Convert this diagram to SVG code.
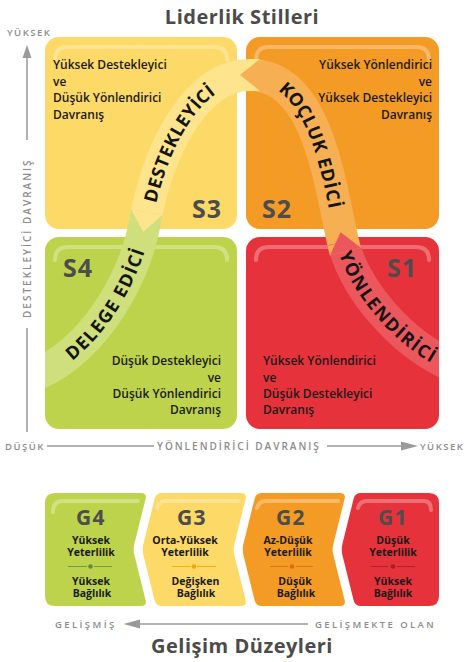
<svg xmlns="http://www.w3.org/2000/svg" width="464" height="662" viewBox="0 0 464 662">
<style>
text{font-family:"Open Sans","Liberation Sans",sans-serif}
.title{font-size:20px;font-weight:700;fill:#4b4b4b;text-anchor:middle;letter-spacing:0.5px}
.ax{font-size:10px;font-weight:600;fill:#8c8c8c;letter-spacing:2px}
.axs{font-size:9.5px;font-weight:600;fill:#8c8c8c;letter-spacing:1.5px}
.ax2{font-size:9.5px;font-weight:600;fill:#8c8c8c;letter-spacing:2.4px}
.axl{stroke:#9a9a9a;stroke-width:1.5;fill:none}
.axh{fill:#9a9a9a}
.desc{font-size:12px;font-weight:600;fill:#1a1a1a}
.end{text-anchor:end}
.slab{font-size:25px;font-weight:700;fill:#4d4d4d;letter-spacing:1px}
.hl{fill:none;stroke:#fff;stroke-opacity:0.3;stroke-width:4;stroke-linecap:round}
.band{fill:none;stroke-width:32}
.btxt{font-size:18px;font-weight:700;fill:#141414;letter-spacing:1px}
.glab{font-size:21px;font-weight:700;fill:#4d4d4d;text-anchor:middle;letter-spacing:1.5px}
.gs{font-size:10.5px;font-weight:700;fill:#1a1a1a;text-anchor:middle}
.yel{fill:#FDD967}.ora{fill:#F39B24}.grn{fill:#BDD34B}.red{fill:#E6323A}
</style>
<defs>
<clipPath id="bandclip"><rect x="45" y="30" width="394" height="400"/></clipPath>
<path id="pG" d="M 38 374 C 100 345, 136 272, 145 222"/>
<path id="pY" d="M 145 222 C 158 150, 195 75, 250 75"/>
<path id="pO" d="M 250 75 C 318 75, 330 185, 343 242"/>
<path id="pR" d="M 343 242 C 355 290, 400 342, 450 365"/>
</defs>
<rect width="464" height="662" fill="#fff"/>

<text class="title" x="242" y="24">Liderlik Stilleri</text>

<g id="axes">
<text class="axs" x="7" y="36">YÜKSEK</text>
<polygon class="axh" points="27,45 22.5,58 31.5,58"/>
<line class="axl" x1="27" y1="57" x2="27" y2="140"/>
<text class="ax" transform="translate(31,318) rotate(-90)">DESTEKLEYİCİ DAVRANIŞ</text>
<line class="axl" x1="27" y1="328" x2="27" y2="432"/>
<text class="axs" x="5" y="449.5">DÜŞÜK</text>
<line class="axl" x1="47" y1="446" x2="154" y2="446"/>
<text class="ax" x="157" y="449.5">YÖNLENDİRİCİ DAVRANIŞ</text>
<line class="axl" x1="327" y1="446" x2="403" y2="446"/>
<polygon class="axh" points="418,446 401,441.5 401,450.5"/>
<text class="axs" x="420" y="449.5">YÜKSEK</text>
</g>

<g id="S3">
<rect class="yel" x="45" y="37" width="192" height="192" rx="14"/>
<path class="hl" d="M 55 60 Q 55 47 68 47 L 214 47 Q 227 47 227 60"/>
<text class="desc" x="53" y="69">Yüksek Destekleyici</text>
<text class="desc" x="53" y="85.5">ve</text>
<text class="desc" x="53" y="102">Düşük Yönlendirici</text>
<text class="desc" x="53" y="118.5">Davranış</text>
<text class="slab" x="192" y="218">S3</text>
</g>
<g id="S2">
<rect class="ora" x="246" y="37" width="193" height="192" rx="14"/>
<path class="hl" d="M 256 60 Q 256 47 269 47 L 416 47 Q 429 47 429 60"/>
<text class="desc end" x="432" y="69">Yüksek Yönlendirici</text>
<text class="desc end" x="432" y="85.5">ve</text>
<text class="desc end" x="432" y="102">Yüksek Destekleyici</text>
<text class="desc end" x="432" y="118.5">Davranış</text>
<text class="slab" x="262" y="218">S2</text>
</g>
<g id="S4">
<rect class="grn" x="45" y="237" width="192" height="192" rx="14"/>
<path class="hl" d="M 55 260 Q 55 247 68 247 L 214 247 Q 227 247 227 260"/>
<text class="desc end" x="221" y="365">Düşük Destekleyici</text>
<text class="desc end" x="221" y="381.5">ve</text>
<text class="desc end" x="221" y="398">Düşük Yönlendirici</text>
<text class="desc end" x="221" y="414">Davranış</text>
<text class="slab" x="63" y="277">S4</text>
</g>
<g id="S1">
<rect class="red" x="246" y="237" width="193" height="192" rx="14"/>
<path class="hl" d="M 256 260 Q 256 247 269 247 L 416 247 Q 429 247 429 260"/>
<text class="desc" x="263" y="365">Yüksek Yönlendirici</text>
<text class="desc" x="263" y="381.5">ve</text>
<text class="desc" x="263" y="398">Düşük Destekleyici</text>
<text class="desc" x="263" y="414">Davranış</text>
<text class="slab" x="387" y="277">S1</text>
</g>

<g id="connectors" clip-path="url(#bandclip)">
<use href="#pR" class="band" stroke="#EC575E"/>
<use href="#pO" class="band" stroke="#F6AF52"/>
<use href="#pY" class="band" stroke="#FEE48C"/>
<use href="#pG" class="band" stroke="#CEDF7C"/>
<polygon fill="#F6AF52" points="358.5,238.1 327.5,245.9 329.9,255.6 360.9,247.8"/>
<polygon fill="#EC575E" points="360.9,247.8 329.9,255.6 340.6,232.3"/>
<polygon fill="#FEE48C" points="250,59 250,91 260,91 260,59"/>
<polygon fill="#F6AF52" points="260,59 260,91 240,75"/>
<polygon fill="#CEDF7C" points="160.7,224.8 129.3,219.2 131.1,209.4 162.5,215"/>
<polygon fill="#FEE48C" points="162.5,215 131.1,209.4 143.2,231.8"/>
<text class="btxt" dominant-baseline="central"><textPath href="#pG" startOffset="52%" text-anchor="middle">DELEGE EDİCİ</textPath></text>
<text class="btxt" dominant-baseline="central"><textPath href="#pY" startOffset="45%" text-anchor="middle">DESTEKLEYİCİ</textPath></text>
<text class="btxt" dominant-baseline="central"><textPath href="#pO" startOffset="50%" text-anchor="middle">KOÇLUK EDİCİ</textPath></text>
<text class="btxt" dominant-baseline="central"><textPath href="#pR" startOffset="48%" text-anchor="middle">YÖNLENDİRİCİ</textPath></text>
</g>

<g id="G4">
<path class="grn" d="M 45 503 Q 45 493 55 493 L 141 493 Q 147 493 145.6 498.8 L 134.2 544.7 Q 133 549.5 134.2 554.3 L 145.6 600.2 Q 147 606 141 606 L 55 606 Q 45 606 45 596 Z"/>
<path class="hl" d="M 53 512 Q 53 501 63 501 L 138 501"/>
<text class="glab" x="91" y="525">G4</text>
<text class="gs" x="91" y="544">Yüksek</text>
<text class="gs" x="91" y="556">Yeterlilik</text>
<line x1="68" y1="566.5" x2="87" y2="566.5" stroke="#6E9A4B" stroke-width="1"/>
<line x1="94" y1="566.5" x2="112" y2="566.5" stroke="#6E9A4B" stroke-width="1"/>
<circle cx="90.5" cy="566.5" r="2.3" fill="#5E8A44"/>
<text class="gs" x="91" y="585">Yüksek</text>
<text class="gs" x="92" y="597">Bağlılık</text>
</g>
<g id="G3">
<path class="yel" d="M 162 493 L 241 493 Q 247 493 245.6 498.8 L 234.2 544.7 Q 233 549.5 234.2 554.3 L 245.6 600.2 Q 247 606 241 606 L 162 606 Q 156 606 154.6 600.2 L 143.5 555.5 Q 142 549.5 143.5 543.5 L 154.6 498.8 Q 156 493 162 493 Z"/>
<path class="hl" d="M 157 508 Q 159 501 166 501 L 238 501"/>
<text class="glab" x="192" y="525">G3</text>
<text class="gs" x="185" y="544">Orta-Yüksek</text>
<text class="gs" x="185" y="556">Yeterlilik</text>
<line x1="172" y1="566.5" x2="191" y2="566.5" stroke="#F5B300" stroke-width="1"/>
<line x1="197" y1="566.5" x2="216" y2="566.5" stroke="#F5B300" stroke-width="1"/>
<circle cx="194" cy="566.5" r="2.3" fill="#F5A800"/>
<text class="gs" x="195.5" y="585">Değişken</text>
<text class="gs" x="196" y="597">Bağlılık</text>
</g>
<g id="G2">
<path class="ora" d="M 262 493 L 340 493 Q 346 493 344.6 498.8 L 333.2 544.7 Q 332 549.5 333.2 554.3 L 344.6 600.2 Q 346 606 340 606 L 262 606 Q 256 606 254.6 600.2 L 243.5 555.5 Q 242 549.5 243.5 543.5 L 254.6 498.8 Q 256 493 262 493 Z"/>
<path class="hl" d="M 257 508 Q 259 501 266 501 L 338 501"/>
<text class="glab" x="291" y="525">G2</text>
<text class="gs" x="288" y="544">Az-Düşük</text>
<text class="gs" x="288" y="556">Yeterlilik</text>
<line x1="270" y1="566.5" x2="288" y2="566.5" stroke="#E2711D" stroke-width="1"/>
<line x1="296" y1="566.5" x2="313" y2="566.5" stroke="#E2711D" stroke-width="1"/>
<circle cx="292" cy="566.5" r="2.3" fill="#E0691A"/>
<text class="gs" x="295" y="585">Düşük</text>
<text class="gs" x="296" y="597">Bağlılık</text>
</g>
<g id="G1">
<path class="red" d="M 361 493 L 429 493 Q 439 493 439 503 L 439 596 Q 439 606 429 606 L 361 606 Q 355 606 353.6 600.2 L 342.5 555.5 Q 341 549.5 342.5 543.5 L 353.6 498.8 Q 355 493 361 493 Z"/>
<path class="hl" d="M 358 508 Q 360 501 367 501 L 424 501 Q 431 501 431 510"/>
<text class="glab" x="393" y="525">G1</text>
<text class="gs" x="393" y="544">Düşük</text>
<text class="gs" x="393" y="556">Yeterlilik</text>
<line x1="371" y1="566.5" x2="388" y2="566.5" stroke="#B31F2B" stroke-width="1"/>
<line x1="397" y1="566.5" x2="415" y2="566.5" stroke="#B31F2B" stroke-width="1"/>
<circle cx="393" cy="566.5" r="2.3" fill="#A51E29"/>
<text class="gs" x="393" y="585">Yüksek</text>
<text class="gs" x="393" y="597">Bağlılık</text>
</g>

<g id="devaxis">
<text class="ax2" x="55" y="627.5">GELİŞMİŞ</text>
<polygon class="axh" points="123.5,624 140,619.5 140,628.5"/>
<line class="axl" x1="139" y1="624" x2="308" y2="624"/>
<text class="ax2" x="315" y="627.5">GELİŞMEKTE OLAN</text>
</g>

<text class="title" x="242" y="653">Gelişim Düzeyleri</text>
</svg>
